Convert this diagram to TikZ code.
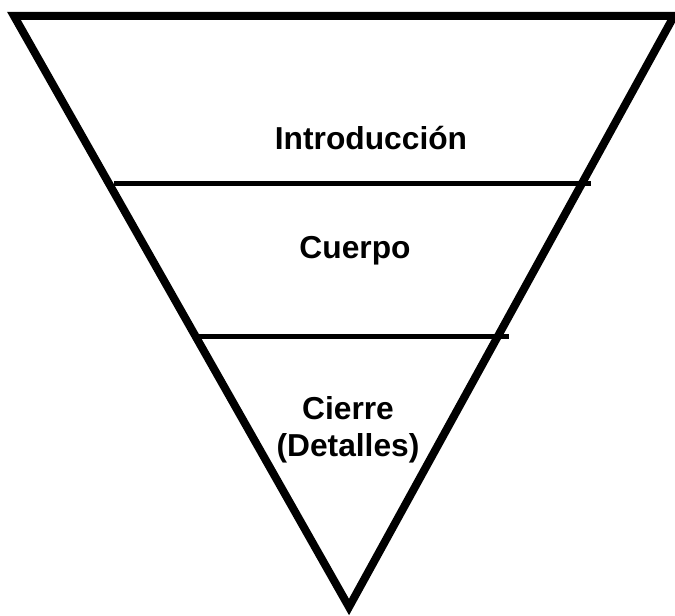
\documentclass[tikz,border=0pt]{standalone}
\usepackage{fontspec}
\setmainfont{Liberation Sans}
\usepackage{tikz}
\usetikzlibrary{positioning}

\begin{document}
\begin{tikzpicture}[x=0.75pt,y=0.75pt,yscale=-1,xscale=1]
\tikzset{label text/.style={font=\fontsize{23.8}{27.5}\selectfont\bfseries, align=center, inner sep=0pt}}
\useasboundingbox (0,0) rectangle (675,616);

%Shape: Triangle [id:tri]
\coordinate (topleft) at (14,16);
\coordinate (topright) at (674,16);
\coordinate (apex) at (349,607);
\draw [line width=6pt] (topleft) -- (topright) -- (apex) -- cycle ;
%Straight Lines [id:sep1]
\coordinate (sepa1) at (114,184);
\coordinate (sepb1) at (591,184);
\draw [line width=3.75pt] (sepa1) -- (sepb1) ;
%Straight Lines [id:sep2]
\coordinate (sepa2) at (197,337);
\coordinate (sepb2) at (509,337);
\draw [line width=3.75pt] (sepa2) -- (sepb2) ;

% Text Node
\node [label text] (intro) at (371,138) {Introducción};
% Text Node
\node [label text] (cuerpo) at (355,251) {Cuerpo};
% Text Node
\node [label text] (cierre) at (348,430) {Cierre\\(Detalles)};

\end{tikzpicture}
\end{document}
